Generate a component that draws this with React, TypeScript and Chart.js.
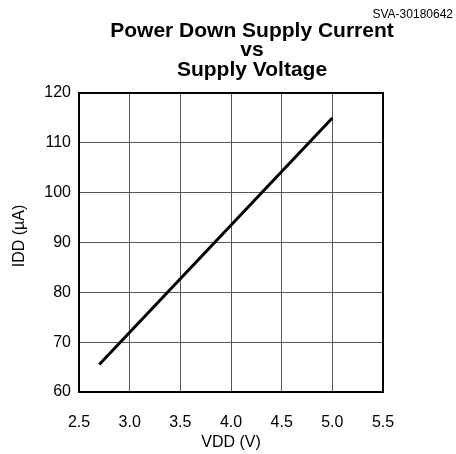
import React, { useEffect, useRef } from "react";
import { Chart, registerables } from "chart.js";

Chart.register(...registerables);

const vdd: number[] = [2.7, 5.0];
const idd: number[] = [65.5, 115];
const titleLines: string[] = ["Power Down Supply Current", "vs", "Supply Voltage"];
const refCode = "SVA-30180642";
const xTitle = "VDD (V)";
const yTitle = "IDD (µA)";

const FONT = '"Liberation Sans", Arial, Helvetica, sans-serif';

const decorPlugin = {
  id: "decor",
  afterDraw(chart: any) {
    const { ctx, chartArea } = chart;
    ctx.save();
    // border
    ctx.strokeStyle = "#000";
    ctx.lineWidth = 2;
    ctx.strokeRect(chartArea.left, chartArea.top, chartArea.right - chartArea.left, chartArea.bottom - chartArea.top);
    // titles
    ctx.fillStyle = "#000";
    ctx.textAlign = "center";
    ctx.textBaseline = "alphabetic";
    ctx.font = `bold 21px ${FONT}`;
    const baselines = [37, 56, 76];
    titleLines.forEach((t, i) => ctx.fillText(t, 252, baselines[i]));
    ctx.font = `12px ${FONT}`;
    ctx.textAlign = "right";
    ctx.fillText(refCode, 453, 18);
    // y axis title
    ctx.font = `16px ${FONT}`;
    ctx.textAlign = "center";
    ctx.textBaseline = "middle";
    ctx.translate(20, 236);
    ctx.rotate(-Math.PI / 2);
    ctx.fillText(yTitle, 0, 0);
    ctx.restore();
  },
};

export default function App() {
  const ref = useRef<HTMLCanvasElement>(null);
  useEffect(() => {
    if (!ref.current) return;
    Chart.defaults.font.family = FONT;
    const chart = new Chart(ref.current, {
      type: "scatter",
      data: {
        datasets: [
          {
            data: vdd.map((x, i) => ({ x, y: idd[i] })),
            showLine: true,
            borderColor: "#000",
            borderWidth: 3,
            pointRadius: 0,
            fill: false,
          },
        ],
      },
      options: {
        animation: false,
        responsive: false,
        maintainAspectRatio: false,
        layout: { padding: { left: 0, top: 93, right: 73, bottom: 0 } },
        plugins: { legend: { display: false }, tooltip: { enabled: false }, title: { display: false } },
        scales: {
          x: {
            type: "linear",
            min: 2.5,
            max: 5.5,
            afterFit: (s: any) => { s.height = 62; },
            ticks: {
              stepSize: 0.5,
              color: "#000",
              font: { size: 16 },
              padding: 21,
              callback: (v: any) => Number(v).toFixed(1),
            },
            grid: { color: "#555", lineWidth: 1, drawTicks: false },
            border: { display: false },
            title: { display: true, text: xTitle, color: "#000", font: { size: 16 }, padding: { top: 0, bottom: 2 } },
          },
          y: {
            type: "linear",
            min: 60,
            max: 120,
            afterFit: (s: any) => { s.width = 79; },
            ticks: { stepSize: 10, color: "#000", font: { size: 16 }, padding: 8 },
            grid: { color: "#555", lineWidth: 1, drawTicks: false },
            border: { display: false },
            title: { display: false },
          },
        },
      },
      plugins: [decorPlugin],
    } as any);
    return () => chart.destroy();
  }, []);
  return (
    <div style={{ position: "fixed", left: 0, top: 0, width: 456, height: 454, background: "#fff" }}>
      <canvas ref={ref} width={456} height={454} style={{ width: 456, height: 454, display: "block" }} />
    </div>
  );
}
